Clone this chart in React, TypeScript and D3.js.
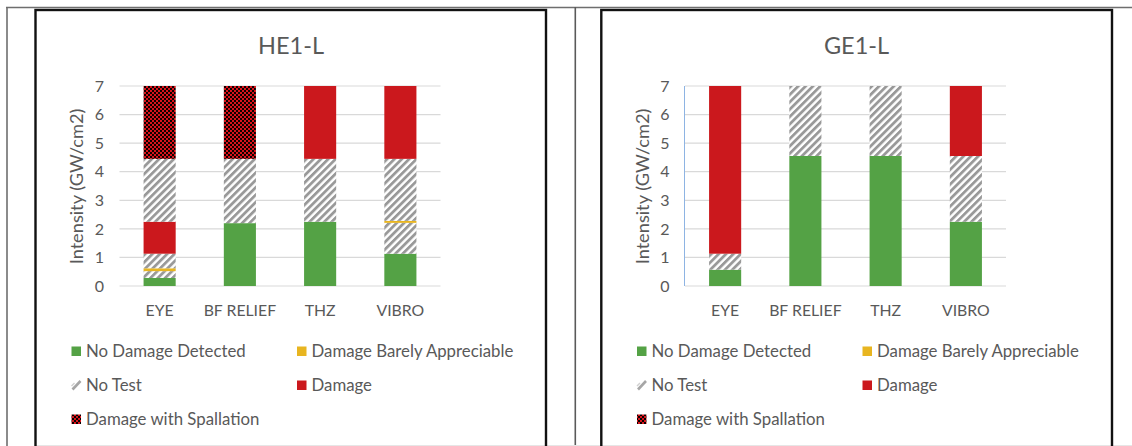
import React from "react";
import * as d3 from "d3";

const categories = ["EYE", "BF RELIEF", "THZ", "VIBRO"];
const yTicks = [0, 1, 2, 3, 4, 5, 6, 7];

// status keys
const statusKeys = ["ndd", "dba", "nt", "dmg", "dws"];
const statusLabels = [
  "No Damage Detected",
  "Damage Barely Appreciable",
  "No Test",
  "Damage",
  "Damage with Spallation",
];

// HE1-L: segment statuses and thicknesses (bottom to top) per category
const he1Status = [
  ["ndd", "nt", "dba", "nt", "dmg", "nt", "dws"],
  ["ndd", "nt", "dws"],
  ["ndd", "nt", "dmg"],
  ["ndd", "nt", "dba", "nt", "dmg"],
];
const he1Values = [
  [0.28, 0.24, 0.1, 0.51, 1.12, 2.2, 2.55],
  [2.2, 2.25, 2.55],
  [2.25, 2.2, 2.55],
  [1.13, 1.08, 0.07, 2.17, 2.55],
];

// GE1-L
const ge1Status = [
  ["ndd", "nt", "dmg"],
  ["ndd", "nt"],
  ["ndd", "nt"],
  ["ndd", "nt", "dmg"],
];
const ge1Values = [
  [0.57, 0.56, 5.87],
  [4.55, 2.45],
  [4.55, 2.45],
  [2.25, 2.3, 2.45],
];

const GREEN = "#54a245";
const YELLOW = "#e8b520";
const RED = "#cb181d";
const TXT = "#595959";
const GRID = "#d9d9d9";
const FONT = "Lato, 'Noto Sans', sans-serif";

const fillFor: Record<string, string> = {
  ndd: GREEN,
  dba: YELLOW,
  nt: "url(#hatch)",
  dmg: RED,
  dws: "url(#spall)",
};

type ChartProps = {
  title: string;
  statuses: string[][];
  values: number[][];
  x0: number;
  axisLine: boolean;
};

function Chart({ title, statuses, values, x0, axisLine }: ChartProps) {
  const x = d3
    .scaleBand<string>()
    .domain(categories)
    .range([x0 + 84, x0 + 405])
    .paddingInner(0.6)
    .paddingOuter(0.3);
  const y = d3.scaleLinear().domain([0, 7]).range([286, 86]);

  const legendRows = [351, 385, 419];
  const legendCols = [x0 + 36, x0 + 261.5];
  const legendPos = [
    [0, 0],
    [1, 0],
    [0, 1],
    [1, 1],
    [0, 2],
  ];

  return (
    <g>
      <text
        x={x0 + 255.5}
        y={53.5}
        textAnchor="middle"
        fontSize={23.5}
        fill={TXT}
        fontFamily={FONT}
      >
        {title}
      </text>
      {yTicks.map((t) => (
        <g key={t}>
          <line
            x1={x0 + 84}
            x2={x0 + 405}
            y1={y(t)}
            y2={y(t)}
            stroke={GRID}
            strokeWidth={1.2}
          />
          <text
            x={x0 + 68.5}
            y={y(t)}
            dy="0.36em"
            textAnchor="end"
            fontSize={16}
            fill={TXT}
            fontFamily={FONT}
          >
            {t}
          </text>
        </g>
      ))}
      {axisLine && (
        <line
          x1={x0 + 83.5}
          x2={x0 + 83.5}
          y1={y(7)}
          y2={y(0)}
          stroke="#8eb4e3"
          strokeWidth={1}
        />
      )}
      <text
        transform={`translate(${x0 + 41},186.5) rotate(-90)`}
        textAnchor="middle"
        dy="0.36em"
        fontSize={18.2}
        fill={TXT}
        fontFamily={FONT}
      >
        Intensity (GW/cm2)
      </text>
      {categories.map((c, i) => {
        const tops = d3.cumsum(values[i]);
        return (
          <g key={c}>
            {values[i].map((v, j) => {
              const top = tops[j];
              const bottom = top - v;
              return (
                <rect
                  key={j}
                  x={x(c)}
                  width={x.bandwidth()}
                  y={y(top)}
                  height={y(bottom) - y(top)}
                  fill={fillFor[statuses[i][j]]}
                />
              );
            })}
            <text
              x={(x(c) as number) + x.bandwidth() / 2}
              y={316}
              textAnchor="middle"
              fontSize={15.8}
              fill={TXT}
              fontFamily={FONT}
            >
              {c}
            </text>
          </g>
        );
      })}
      {statusKeys.map((k, i) => {
        const [ci, ri] = legendPos[i];
        const lx = legendCols[ci];
        const ly = legendRows[ri];
        return (
          <g key={k}>
            {k === "nt" ? (
              <g>
                <line
                  x1={lx + 1}
                  y1={ly + 4.5}
                  x2={lx + 9}
                  y2={ly - 4}
                  stroke="#a6a6a6"
                  strokeWidth={2.6}
                />
                <line
                  x1={lx}
                  y1={ly + 1}
                  x2={lx + 3}
                  y2={ly - 2}
                  stroke="#d0d0d0"
                  strokeWidth={1.5}
                />
              </g>
            ) : (
              <rect
                x={lx}
                y={ly - 4.5}
                width={9.5}
                height={9.5}
                fill={k === "dws" ? "url(#spallL)" : fillFor[k]}
              />
            )}
            <text
              x={lx + 14.5}
              y={ly}
              dy="0.36em"
              fontSize={16.8}
              fill={TXT}
              fontFamily={FONT}
            >
              {statusLabels[i]}
            </text>
          </g>
        );
      })}
    </g>
  );
}

export default function App() {
  return (
    <svg
      width={1132}
      height={446}
      style={{ position: "absolute", left: 0, top: 0, background: "#fff" }}
    >
      <defs>
        <pattern
          id="hatch"
          patternUnits="userSpaceOnUse"
          width={5.2}
          height={10}
          patternTransform="rotate(45)"
        >
          <rect width={5.2} height={10} fill="#fff" />
          <rect width={2.8} height={10} fill="#999999" />
        </pattern>
        <pattern id="spall" patternUnits="userSpaceOnUse" width={4} height={4}>
          <rect width={4} height={4} fill="#120000" />
          <rect x={0} y={0} width={2} height={2} fill="#d9141b" />
          <rect x={2} y={2} width={2} height={2} fill="#d9141b" />
          <rect x={2.5} y={0.5} width={1} height={1} fill="#000" />
        </pattern>
        <pattern id="spallL" patternUnits="userSpaceOnUse" width={4} height={4}>
          <rect width={4} height={4} fill="#0a0000" />
          <rect x={0} y={0} width={2} height={2} fill="#d8141b" />
          <rect x={2} y={2} width={2} height={2} fill="#d8141b" />
        </pattern>
      </defs>

      {/* outer table lines */}
      <line x1={6} x2={1132} y1={7.5} y2={7.5} stroke="#6e6e6e" strokeWidth={1.6} />
      <line x1={7} x2={7} y1={7} y2={446} stroke="#6e6e6e" strokeWidth={1.6} />
      <line x1={575.3} x2={575.3} y1={7} y2={446} stroke="#5a5a5a" strokeWidth={1.6} />
      <line x1={35} x2={1132} y1={445.5} y2={445.5} stroke="#e6e6e6" strokeWidth={1} />

      {/* chart boxes */}
      <rect x={35.5} y={10} width={510.5} height={450} fill="none" stroke="#111" strokeWidth={2.4} />
      <rect x={601.3} y={10} width={510.7} height={450} fill="none" stroke="#111" strokeWidth={2.4} />

      <Chart title="HE1-L" statuses={he1Status} values={he1Values} x0={35.5} axisLine={false} />
      <Chart title="GE1-L" statuses={ge1Status} values={ge1Values} x0={601} axisLine={true} />
    </svg>
  );
}
